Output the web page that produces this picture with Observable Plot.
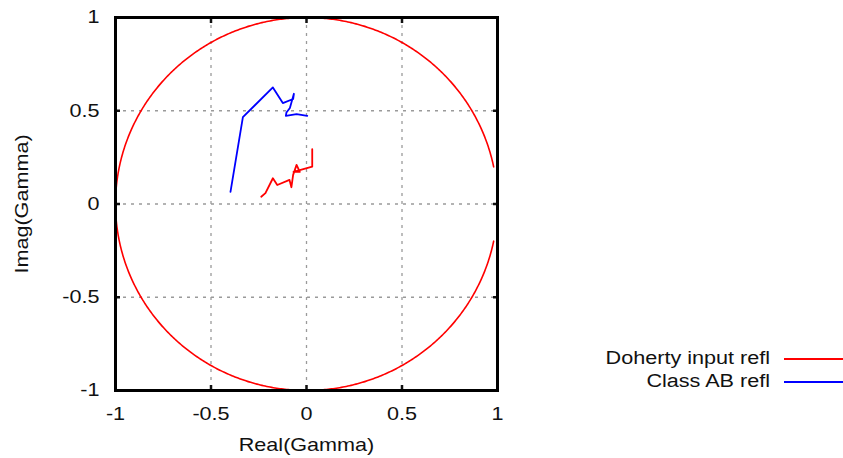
<!DOCTYPE html>
<html>
<head>
<meta charset="utf-8">
<script src="https://cdn.jsdelivr.net/npm/d3@7"></script>
<script src="https://cdn.jsdelivr.net/npm/@observablehq/plot@0.6"></script>
<style>
  html, body { margin: 0; padding: 0; background: #fff; }
  #wrap { position: relative; width: 843px; height: 458px; font-family: "Liberation Sans", Arial, sans-serif; }
  .leg { position: absolute; left: 0; width: 843px; height: 20px; }
  .leg .t { position: absolute; right: 73px; top: 0; font-size: 18px; line-height: 20px; color: #111; white-space: nowrap; transform: scaleX(1.2); transform-origin: right center; }
  .leg .sw { position: absolute; left: 784px; width: 59px; top: 10px; height: 0; border-top: 2px solid; }
</style>
</head>
<body>
<div id="wrap"></div>
<script>
// Ticks
const xTicks = [-1, -0.5, 0, 0.5, 1];
const yTicks = [-1, -0.5, 0, 0.5, 1];

// Doherty input reflection (Real, Imag)
const dohertyRe = [-0.237, -0.215, -0.176, -0.153, -0.089, -0.079, -0.070, -0.052, -0.035, -0.068, 0.030, 0.030];
const dohertyIm = [0.039, 0.058, 0.138, 0.102, 0.129, 0.090, 0.156, 0.210, 0.172, 0.172, 0.200, 0.294];

// Class AB reflection (Real, Imag)
const classABRe = [-0.398, -0.333, -0.176, -0.124, -0.070, -0.066, -0.087, -0.105, -0.108, -0.052, 0.004];
const classABIm = [0.065, 0.466, 0.625, 0.541, 0.563, 0.591, 0.515, 0.491, 0.473, 0.482, 0.473];

// |Gamma| = 1 boundary, drawn from 11.5° to 348.5°
const circleStartDeg = 11.5, circleEndDeg = 348.5;

const doherty = dohertyRe.map((re, i) => ({re, im: dohertyIm[i]}));
const classAB = classABRe.map((re, i) => ({re, im: classABIm[i]}));
const circle = d3.range(circleStartDeg, circleEndDeg + 0.01, 0.5).map(a => ({
  re: Math.cos(a * Math.PI / 180), im: Math.sin(a * Math.PI / 180)
}));

const fmt = d => String(d);
const font = "Liberation Sans, Arial, sans-serif";

const chart = Plot.plot({
  width: 843,
  height: 458,
  marginLeft: 115,
  marginRight: 346,
  marginTop: 17,
  marginBottom: 68,
  style: {fontFamily: font, fontSize: "18px", color: "#111", background: "white"},
  x: {domain: [-1, 1]},
  y: {domain: [-1, 1]},
  marks: [
    Plot.gridX(xTicks, {stroke: "#9a9a9a", strokeOpacity: 1, strokeDasharray: "3,5", strokeWidth: 1.3}),
    Plot.gridY(yTicks, {stroke: "#9a9a9a", strokeOpacity: 1, strokeDasharray: "3,5", strokeWidth: 1.3}),
    Plot.line(circle, {x: "re", y: "im", stroke: "#ff0000", strokeWidth: 1.6}),
    Plot.line(doherty, {x: "re", y: "im", stroke: "#ff0000", strokeWidth: 1.8}),
    Plot.line(classAB, {x: "re", y: "im", stroke: "#0000ff", strokeWidth: 1.8}),
    Plot.axisX(xTicks, {anchor: "bottom", tickSize: 0, tickPadding: 17, fontSize: 18, tickFormat: fmt, label: "Real(Gamma)", labelAnchor: "center", labelArrow: "none", labelOffset: 60}),
    Plot.axisY(yTicks, {anchor: "left", tickSize: 0, tickPadding: 16, fontSize: 18, tickFormat: fmt, label: "Imag(Gamma)", labelAnchor: "center", labelArrow: "none", labelOffset: 100}),
    Plot.axisX(xTicks, {anchor: "bottom", tickSize: -5, tickFormat: () => "", strokeWidth: 2.5, label: null}),
    Plot.axisX(xTicks, {anchor: "top", tickSize: -5, tickFormat: () => "", strokeWidth: 2.5, label: null}),
    Plot.axisY(yTicks, {anchor: "left", tickSize: -5, tickFormat: () => "", strokeWidth: 2.5, label: null}),
    Plot.axisY(yTicks, {anchor: "right", tickSize: -5, tickFormat: () => "", strokeWidth: 2.5, label: null}),
    Plot.frame({stroke: "black", strokeWidth: 3})
  ]
});

// Widen glyphs horizontally (the reference font is drawn wider), scaling around each text's anchor
chart.querySelectorAll("text").forEach(t => {
  const x = +(t.getAttribute("x") || 0);
  const tr = t.getAttribute("transform") || "";
  t.setAttribute("transform", `${tr} translate(${x},0) scale(1.2,1) translate(${-x},0)`.trim());
});

const wrap = document.getElementById("wrap");
wrap.appendChild(chart);

const legendItems = [
  {label: "Doherty input refl", color: "#ff0000", top: 348},
  {label: "Class AB refl", color: "#0000ff", top: 371}
];
for (const it of legendItems) {
  const d = document.createElement("div");
  d.className = "leg";
  d.style.top = it.top + "px";
  d.innerHTML = `<span class="t">${it.label}</span><span class="sw" style="border-color:${it.color}"></span>`;
  wrap.appendChild(d);
}
</script>
</body>
</html>
